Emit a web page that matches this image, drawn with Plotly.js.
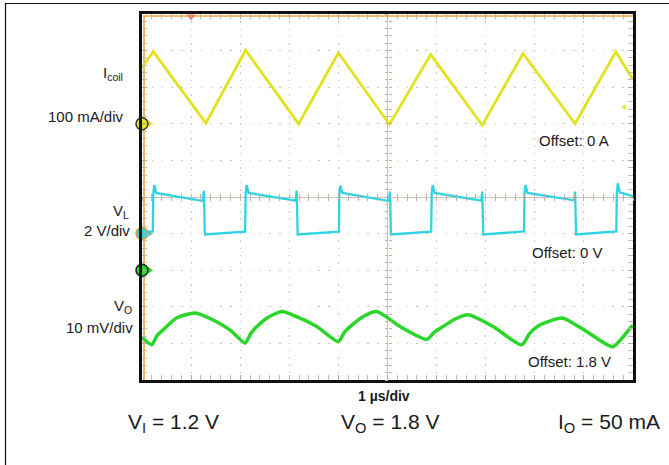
<!DOCTYPE html>
<html><head><meta charset="utf-8">
<script src="https://cdn.plot.ly/plotly-3.0.1.min.js"></script>
<style>html,body{margin:0;padding:0;background:#fff;} #plot{width:669px;height:465px;}</style>
</head><body><div id="plot"></div>
<script>
// ---- data (time in µs, 1 µs/div, screen centre = 0) ----
const icoilTime = [-5.0, -4.77, -3.70, -2.89, -1.81, -1.00, 0.04, 0.88, 1.93, 2.76, 3.82, 4.65, 5.0];
const icoilMilliamp = [154, 197, 2, 201, 0, 194, -2, 189, -4, 192, 0, 197, 121];

const vlTime = [-5.0, -4.78, -4.77, -4.75, -4.71, -3.76, -3.74, -3.72,
  -2.90, -2.89, -2.87, -2.83, -1.87, -1.85, -1.83,
  -0.99, -0.98, -0.96, -0.92, 0.03, 0.05, 0.07,
  0.89, 0.90, 0.92, 0.96, 1.91, 1.93, 1.95,
  2.78, 2.79, 2.81, 2.85, 3.80, 3.82, 3.84,
  4.66, 4.67, 4.69, 4.73, 5.0];
const vlVolt = [0.10, 0.12, 2.2, 2.65, 2.22, 1.78, 2.35, -0.05,
  0.10, 2.2, 2.65, 2.22, 1.80, 2.35, -0.05,
  0.10, 2.2, 2.62, 2.22, 1.78, 2.3, -0.05,
  0.10, 2.2, 2.65, 2.22, 1.80, 2.3, -0.05,
  0.12, 2.2, 2.65, 2.22, 1.82, 2.3, -0.05,
  0.12, 2.2, 2.75, 2.25, 2.05];

const voTime = [-5.0, -4.80, -4.70, -4.57, -4.29, -3.92, -3.55, -3.21, -2.90, -2.78, -2.66, -2.46, -2.15, -1.85, -1.44, -1.00,
  -0.88, -0.76, -0.50, -0.22, 0.27, 0.80, 0.95, 1.13, 1.40, 1.64, 2.15, 2.73, 2.90, 3.11, 3.57, 4.06, 4.59, 4.97, 5.0];
const voMillivolt = [-18.3, -20.4, -18.0, -16.3, -13.0, -11.7, -13.6, -16.3, -19.9, -17.2, -15.4, -13.1, -11.3, -12.7, -15.4, -19.5,
  -17.0, -15.4, -12.7, -11.3, -15.5, -18.9, -17.0, -15.4, -13.2, -12.2, -15.4, -20.4, -17.2, -14.9, -13.1, -16.8, -20.9, -15.4, -15.2];

const channelNames = ['I<sub>coil</sub>', 'V<sub>L</sub>', 'V<sub>O</sub>'];
const channelScaleLabels = ['100 mA/div', '2 V/div', '10 mV/div'];
const channelOffsetLabels = ['Offset: 0 A', 'Offset: 0 V', 'Offset: 1.8 V'];
const conditionLabels = ['V<sub>I</sub> = 1.2 V', 'V<sub>O</sub> = 1.8 V', 'I<sub>O</sub> = 50 mA'];
const timeBaseLabel = '1 µs/div';
const triggerTime = [-4];
const triggerLevelMilliamp = [46];

// ---- scope settings ----
const perDiv = [100, 2, 10];        // units per division
const posDiv = [2, -1, -2];         // ground reference position (divisions)
const colors = ['#e2e221', '#2fd3e3', '#2ad62a'];
const markerEdge = ['#333', '#e0a040', '#222'];

// ---- geometry ----
const W = 669, H = 465, L = 142, R = 633, T = 14, B = 380;
const px = x => (x - L) / (R - L);
const py = y => (B - y) / (B - T);
const font = 'Liberation Sans, Arial, Helvetica, sans-serif';

const chRange = i => [(-5 - posDiv[i]) * perDiv[i], (5 - posDiv[i]) * perDiv[i]];

const traces = [
  {x: icoilTime, y: icoilMilliamp, yaxis: 'y4', mode: 'lines', line: {color: colors[0], width: 2.8}, hoverinfo: 'skip'},
  {x: vlTime, y: vlVolt, yaxis: 'y5', mode: 'lines', line: {color: colors[1], width: 2.3}, hoverinfo: 'skip'},
  {x: voTime, y: voMillivolt, yaxis: 'y6', mode: 'lines', line: {color: colors[2], width: 3.5, shape: 'spline', smoothing: 0.6}, hoverinfo: 'skip'},
  // helpers for centre-line tick axes
  {x: [0], y: [0], xaxis: 'x2', yaxis: 'y', mode: 'markers', marker: {opacity: 0}, hoverinfo: 'skip'},
  {x: [0], y: [0], xaxis: 'x3', yaxis: 'y', mode: 'markers', marker: {opacity: 0}, hoverinfo: 'skip'},
  {x: [0], y: [0], xaxis: 'x', yaxis: 'y2', mode: 'markers', marker: {opacity: 0}, hoverinfo: 'skip'},
  {x: [0], y: [0], xaxis: 'x', yaxis: 'y3', mode: 'markers', marker: {opacity: 0}, hoverinfo: 'skip'},
  // trigger markers
  {x: triggerTime, y: [4.93], mode: 'markers', marker: {symbol: 'triangle-down', size: 8, color: '#e2806c'}, cliponaxis: false, hoverinfo: 'skip'},
  {x: [4.82], y: triggerLevelMilliamp, yaxis: 'y4', mode: 'markers', marker: {symbol: 'triangle-left', size: 5, color: colors[0]}, cliponaxis: false, hoverinfo: 'skip'}
];
// ground reference markers
['y4', 'y5', 'y6'].forEach((ax, i) => {
  traces.push({x: [-4.84], y: [0], yaxis: ax, mode: 'markers', cliponaxis: false, hoverinfo: 'skip',
    marker: {symbol: 'triangle-right', size: 6, color: colors[i]}});
  traces.push({x: [-5], y: [0], yaxis: ax, mode: 'markers', cliponaxis: false, hoverinfo: 'skip',
    marker: {symbol: 'circle', size: 12, color: colors[i], line: {color: markerEdge[i], width: 1.5}}});
});

const ann = [];
const lab = (text, x, y, xa, size, extra) => ann.push(Object.assign({
  text: text, xref: 'paper', yref: 'paper', x: px(x), y: py(y), xanchor: xa, yanchor: 'middle',
  showarrow: false, font: {family: font, size: size, color: '#1a1a1a'}}, extra || {}));

lab(channelNames[0], 125, 74, 'right', 15);
lab(channelScaleLabels[0], 126, 116.5, 'right', 15);
lab(channelNames[1], 131, 211, 'right', 15);
lab(channelScaleLabels[1], 132, 230, 'right', 15);
lab(channelNames[2], 134, 306, 'right', 15);
lab(channelScaleLabels[2], 135, 327, 'right', 15);
lab(channelOffsetLabels[0], 611, 140, 'right', 15);
lab(channelOffsetLabels[1], 605, 252, 'right', 15);
lab(channelOffsetLabels[2], 613, 361, 'right', 15);
lab('<b>' + timeBaseLabel + '</b>', 384, 396, 'center', 14);
lab(conditionLabels[0], 126, 423, 'left', 21);
lab(conditionLabels[1], 339, 423, 'left', 21);
lab(conditionLabels[2], 556, 423, 'left', 21);

const shapes = [
  {type: 'line', xref: 'paper', yref: 'paper', x0: px(5), x1: px(669), y0: py(3.5), y1: py(3.5), line: {color: '#111', width: 1.2}},
  {type: 'line', xref: 'paper', yref: 'paper', x0: px(5.5), x1: px(5.5), y0: py(3), y1: py(465), line: {color: '#111', width: 1.2}},
  {type: 'rect', xref: 'paper', yref: 'paper', x0: px(L + 2), x1: px(R + 2), y0: py(B + 2), y1: py(T + 2),
    line: {color: '#eaa33a', width: 1.5}, layer: 'below'}
];

const baseX = {range: [-5, 5], showticklabels: false, fixedrange: true};
const layout = {
  width: W, height: H, margin: {l: L, r: W - R, t: T, b: H - B, pad: 0},
  paper_bgcolor: '#fff', plot_bgcolor: '#fff', showlegend: false,
  xaxis: Object.assign({}, baseX, {dtick: 1, showgrid: true, gridcolor: '#c4c4c4', gridwidth: 1, griddash: '1.4px,5.9px',
    zeroline: true, zerolinecolor: '#cbc4b6', zerolinewidth: 1,
    showline: true, linecolor: '#111', linewidth: 3, mirror: 'allticks',
    ticks: 'inside', ticklen: 5, tickcolor: '#aaa', tickwidth: 1,
    minor: {dtick: 0.2, ticks: 'inside', ticklen: 4, tickcolor: '#bbb', tickwidth: 1, showgrid: false}}),
  yaxis: {range: [-5, 5], showticklabels: false, fixedrange: true, dtick: 1,
    showgrid: true, gridcolor: '#c4c4c4', gridwidth: 1, griddash: '1.4px,8.4px',
    zeroline: true, zerolinecolor: '#cbc4b6', zerolinewidth: 1,
    showline: true, linecolor: '#111', linewidth: 3, mirror: 'allticks',
    ticks: 'inside', ticklen: 5, tickcolor: '#aaa', tickwidth: 1,
    minor: {dtick: 0.2, ticks: 'inside', ticklen: 4, tickcolor: '#bbb', tickwidth: 1, showgrid: false}},
  xaxis2: Object.assign({}, baseX, {overlaying: 'x', anchor: 'free', position: 0.5, dtick: 0.2, ticks: 'outside', ticklen: 3,
    tickcolor: '#b8b0a2', showgrid: false, zeroline: false, showline: false}),
  xaxis3: Object.assign({}, baseX, {overlaying: 'x', anchor: 'free', position: 0.5, dtick: 0.2, ticks: 'inside', ticklen: 3,
    tickcolor: '#b8b0a2', showgrid: false, zeroline: false, showline: false}),
  yaxis2: {range: [-5, 5], overlaying: 'y', anchor: 'free', position: 0.5, dtick: 0.2, ticks: 'outside', ticklen: 3,
    tickcolor: '#b8b0a2', showgrid: false, zeroline: false, showline: false, showticklabels: false, fixedrange: true},
  yaxis3: {range: [-5, 5], overlaying: 'y', anchor: 'free', position: 0.5, dtick: 0.2, ticks: 'inside', ticklen: 3,
    tickcolor: '#b8b0a2', showgrid: false, zeroline: false, showline: false, showticklabels: false, fixedrange: true},
  yaxis4: {range: chRange(0), overlaying: 'y', visible: false, fixedrange: true},
  yaxis5: {range: chRange(1), overlaying: 'y', visible: false, fixedrange: true},
  yaxis6: {range: chRange(2), overlaying: 'y', visible: false, fixedrange: true},
  annotations: ann, shapes: shapes
};
Plotly.newPlot('plot', traces, layout, {staticPlot: true, displayModeBar: false});
</script></body></html>
